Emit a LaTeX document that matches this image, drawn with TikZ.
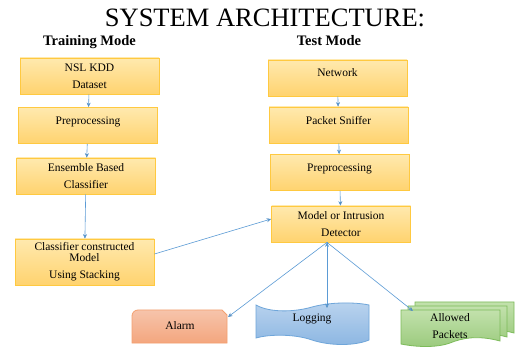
\documentclass[tikz,border=0pt]{standalone}
\usepackage{fontspec}
\setmainfont{Liberation Serif}
\usetikzlibrary{positioning, arrows.meta}

\definecolor{boxtop}{HTML}{FFE9AE}
\definecolor{boxbottom}{HTML}{FFD36F}
\definecolor{boxline}{HTML}{FFC940}
\definecolor{linkblue}{HTML}{5B9BD5}
\definecolor{alarmtop}{HTML}{F6C4AB}
\definecolor{alarmbottom}{HTML}{F4A67E}
\definecolor{alarmline}{HTML}{F4A070}
\definecolor{logtop}{HTML}{B9D3EE}
\definecolor{logbottom}{HTML}{8CB6E2}
\definecolor{logline}{HTML}{6FA6DA}
\definecolor{pkttop}{HTML}{C2E1AC}
\definecolor{pktbottom}{HTML}{9ACA7C}
\definecolor{pktline}{HTML}{7DBB5A}

\begin{document}
\begin{tikzpicture}[x=1pt, y=-1pt, on grid,
        block/.style={rectangle, draw=boxline, line width=0.8pt, top color=boxtop, bottom color=boxbottom,
            minimum width=139pt, minimum height=36pt, inner sep=0pt, align=center, font=\fontsize{11.5}{17}\selectfont},
        oneline/.style={text depth=10pt},
        mode/.style={font=\fontsize{14.5}{17}\selectfont\bfseries, anchor=base},
        outtext/.style={font=\fontsize{11.5}{17}\selectfont, align=center},
        link/.style={-{Stealth[length=4.5pt, width=4pt]}, draw=linkblue, line width=0.6pt}]
        \fill[white] (0,0) rectangle (522,347);
        \useasboundingbox (0,0) rectangle (522,347);

        \node[anchor=base, font=\fontsize{26.5}{30}\selectfont] (title) at (265,27) {SYSTEM ARCHITECTURE:};
        \node[mode] (train) at (89.5,46) {Training Mode};
        \node[mode] (test) at (329,46) {Test Mode};

        \node[block] (tr_0) at (89.5,76) {NSL KDD\\Dataset};
        \node[block, oneline] (tr_1) [below=49.5pt of tr_0, xshift=-1.5pt] {Preprocessing};
        \node[block] (tr_2) [below=50.5pt of tr_1, xshift=-2pt] {Ensemble Based\\Classifier};
        \node[block, minimum height=46pt] (tr_3) [below=86pt of tr_2, xshift=-1.5pt]
            {Classifier constructed\\[-6pt]Model\\Using Stacking};

        \node[block, oneline] (ts_0) at (337.5,78) {Network};
        \node[block, oneline] (ts_1) [below=47pt of ts_0, xshift=1pt] {Packet Sniffer};
        \node[block, oneline] (ts_2) [below=47.5pt of ts_1, xshift=1pt] {Preprocessing};
        \node[block] (ts_3) [below=51.5pt of ts_2, xshift=1.5pt] {Model or Intrusion\\Detector};

        % outputs of the detector
        \path[draw=alarmline, line width=0.8pt, top color=alarmtop, bottom color=alarmbottom]
            (132,343) -- (132,316) arc[start angle=180, end angle=270, radius=6]
            -- (222,310) -- (227,315) -- (227,343) -- cycle;
        \path[draw=logline, line width=0.8pt, top color=logtop, bottom color=logbottom]
            (256,305) .. controls (270,313) and (295,312) .. (312,307)
            .. controls (330,302) and (355,302) .. (369,305) -- (369,340)
            .. controls (355,346) and (330,346) .. (312,340)
            .. controls (295,334) and (270,334) .. (256,338) -- cycle;
        \foreach \s/\t in {14/8, 7/4, 0/0}
            \path[draw=pktline, line width=0.8pt, top color=pkttop, bottom color=pktbottom, shift={(\s,-\t)}]
                (401,310) -- (500,310) -- (500,341)
                .. controls (478,335) and (462,338) .. (450,343)
                .. controls (436,348) and (416,347) .. (401,344) -- cycle;

        \node[outtext] (alarm) at (180,326) {Alarm};
        \node[outtext] (logging) at (312,319) {Logging};
        \node[outtext] (allowed) at (450,326) {Allowed\\Packets};

        \coordinate (split) at ([xshift=-14pt]ts_3.south);
        \coordinate (alarm_in) at (228,317);
        \coordinate (log_in) at (327,308);
        \coordinate (pkt_in) at (413,311);

        \path[link]
        (tr_0) edge (tr_1)
        (tr_1) edge (tr_2)
        (tr_2) edge (tr_3)
        ([yshift=8pt]tr_3.east) edge ([yshift=5pt]ts_3.west)
        (ts_0) edge (ts_1)
        (ts_1) edge (ts_2)
        (ts_2) edge (ts_3)
        (split) edge (alarm_in)
        (split) edge (log_in)
        (split) edge (pkt_in);
    \end{tikzpicture}
\end{document}
